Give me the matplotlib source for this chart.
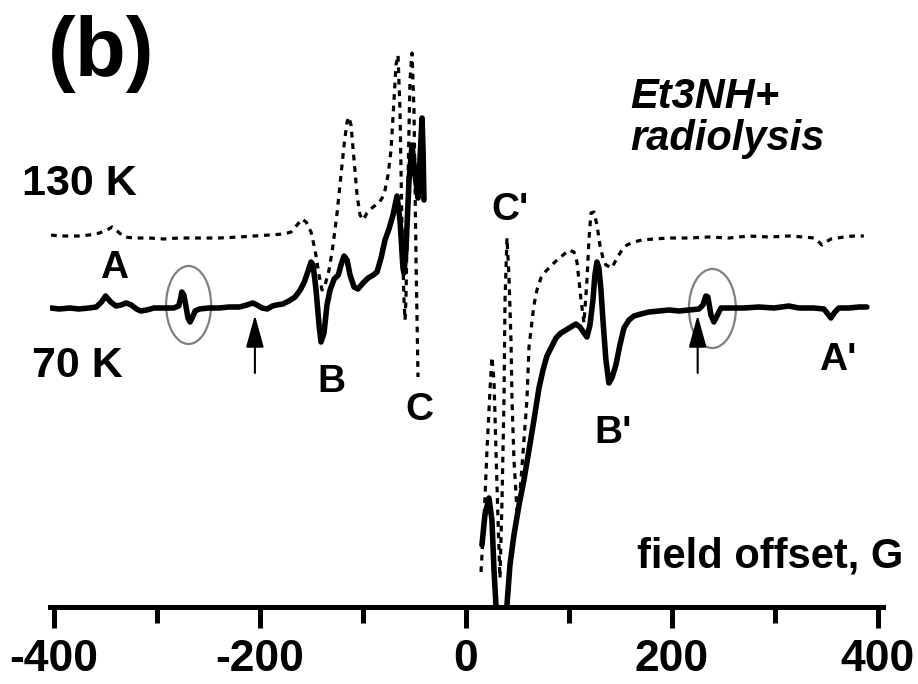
import matplotlib
matplotlib.use('Agg')
import matplotlib.pyplot as plt
from matplotlib.patches import Ellipse

plt.rcParams['font.family'] = ['Liberation Sans', 'DejaVu Sans']
plt.rcParams['axes.unicode_minus'] = False

# 70 K spectrum (solid), low-field and high-field parts; centre line cut out
field_70_low = [-403, -395, -385, -376, -366, -359, -354, -350, -345, -340,
                -335, -330, -325, -320, -316, -310, -303, -293, -284, -279,
                -277, -276, -274, -272, -270, -268, -266, -263, -259, -250,
                -240, -230, -220, -213, -207, -203, -198, -193, -188, -184,
                -178, -172, -166, -161, -157, -153, -150.5, -148.5, -145.6, -142.7,
                -140.8, -137.9, -135, -132, -128, -124, -121.4, -118.4, -115.5, -112.6,
                -108.7, -104.9, -100, -95, -90, -86.4, -82.5, -78.6, -74.8, -70.9,
                -67, -64.1, -61.2, -60.2, -58.3, -55.3, -52.4, -49.5, -46.6, -44.7,
                -42.7, -41.7, -40.8]
signal_70_low = [0, -1, 0, -1, 0, 1, 6, 12, 6, 2,
                 3, 5, 3, -1, -3, -2, 0, 0, 0, 2,
                 10, 16, 13, 2, -10, -14, -10, -3, -1, 0,
                 0, 1, 1, 3, 5, 3, 0, -1, 2, 3,
                 4, 7, 11, 18, 26, 38, 46, 43, 18, -17,
                 -34, -25, 3, 18, 29, 33, 43, 52, 48, 33,
                 21, 19, 25, 30, 33, 36, 50, 68, 79, 93,
                 112, 88, 40, 35, 58, 128, 163, 133, 110, 148,
                 190, 158, 108]

field_70_high = [15.5, 18.4, 22.3, 25.2, 27.2, 29.1, 34.0, 39.8, 42.7, 46.6,
                 51.5, 56.3, 61.2, 66.0, 70.9, 74.8, 78.6, 83.5, 87.4, 92.2,
                 97.1, 101.9, 106.8, 110.7, 114.6, 117.5, 120.4, 123.3, 125.2, 127.2,
                 129.1, 131.1, 133.0, 135.9, 138.8, 141.7, 145.6, 149.5, 153.4, 158.3,
                 163.1, 169.9, 177.7, 187.4, 197.1, 206.8, 216.5, 226.2, 230.1, 233.0,
                 234.9, 237.9, 240.8, 243.7, 247.6, 255.3, 269.9, 284.5, 299.0, 313.6,
                 323.3, 337.9, 347.6, 351.5, 354.4, 358.3, 362.1, 371.8, 381.6, 389.3]
signal_70_high = [-237, -207, -190, -212, -262, -297, -332, -297, -257, -227,
                  -197, -172, -142, -112, -80, -62, -48, -38, -30, -25,
                  -22, -19, -16, -19, -25, -29, -17, 8, 33, 46,
                  40, 18, -12, -52, -75, -70, -57, -37, -20, -12,
                  -8, -6, -4, -3, -2, -3, -2, -1, 3, 12,
                  11, -7, -14, -8, 0, 0, 0, 1, 0, 2,
                  0, 0, -1, -6, -10, -4, 0, 0, 1, 1]

# 130 K spectrum (dotted)
field_130_low = [-403, -395, -385, -376, -366, -356, -348.5, -343.7, -338.8, -332,
                 -322, -308, -293, -279, -259, -240, -220, -206, -191, -177,
                 -169.9, -164.1, -159.2, -155.3, -150.5, -146.6, -142.7, -139.8, -136.9, -133,
                 -129.1, -125.2, -121.4, -118.4, -115.5, -113.6, -111.7, -108.7, -105.8, -102.9,
                 -100, -96.1, -90.3, -84.5, -79.6, -75.7, -72.8, -69.9, -68, -66,
                 -64.1, -62.1, -60.2, -59.2, -58.3, -56.3, -54.4, -52.4, -50.5, -48.5,
                 -46.6]
signal_130_low = [1, 0, 0, 0, 1, 3, 6, 9, 5, -1,
                  -2, -2, -3, -2, -2, -2, -1, 0, 1, 2,
                  4, 11, 17, 14, 4, -14, -39, -54, -49, -34,
                  -9, 23, 61, 91, 114, 119, 111, 76, 41, 21,
                  16, 23, 29, 33, 41, 61, 86, 136, 171, 181,
                  126, 6, -64, -84, -64, 56, 156, 183, 126, -24,
                  -141]

field_130_high = [14.6, 17.5, 20.4, 23.3, 25.2, 27.2, 29.1, 31.1, 33.0, 35.0,
                  36.9, 37.9, 39.8, 41.7, 43.7, 44.7, 46.6, 49.5, 50.5, 53.4,
                  56.3, 59.2, 61.2, 66.0, 68.9, 72.8, 77.7, 82.5, 87.4, 93.2,
                  100.0, 104.9, 107.8, 109.7, 111.7, 114.6, 117.5, 119.4, 121.4, 124.3,
                  127.2, 130.1, 133.0, 135.9, 141.7, 146.6, 151.5, 156.3, 163.1, 170.9,
                  182.5, 197.1, 216.5, 235.9, 255.3, 274.8, 294.2, 313.6, 328.2, 337.9,
                  342.7, 345.6, 349.5, 354.4, 367.0, 376.7, 386.4]
signal_130_high = [-336, -284, -214, -154, -121, -144, -214, -284, -342, -264,
                   -164, -64, -2, -39, -104, -164, -224, -274, -279, -244,
                   -204, -164, -111, -69, -54, -42, -35, -30, -25, -20,
                   -14, -16, -26, -44, -64, -87, -44, -4, 23, 24,
                   11, -9, -22, -29, -32, -22, -14, -9, -6, -4,
                   -3, -2, -2, -1, -2, 0, -1, 0, -1, -2,
                   -6, -9, -6, -3, -1, 0, 0]

offset_70 = 299
offset_130 = 371

line_labels = ['A', 'B', 'C', "C'", "B'", "A'"]
line_label_pos = [(-342, 329), (-131, 215), (-45, 187), (43, 387), (143, 164), (361, 237)]

fig = plt.figure(figsize=(9.18, 6.84), dpi=100)
ax = fig.add_axes([50 / 918, 77 / 684, 833 / 918, 607 / 684])

ax.plot(field_130_low, [s + offset_130 for s in signal_130_low], color='black',
        lw=2.3, linestyle=(0, (1.8, 1.8)))
ax.plot(field_130_high, [s + offset_130 for s in signal_130_high], color='black',
        lw=2.3, linestyle=(0, (1.8, 1.8)))
ax.plot(field_70_low, [s + offset_70 for s in signal_70_low], color='black',
        lw=4, solid_joinstyle='round', solid_capstyle='round')
ax.plot(field_70_high, [s + offset_70 for s in signal_70_high], color='black',
        lw=4, solid_joinstyle='round', solid_capstyle='round')

# circled features and arrows
ax.add_patch(Ellipse((-269.4, 302), 43.7, 78, fill=False, edgecolor='#808080', lw=1.6))
ax.add_patch(Ellipse((239.3, 298.5), 45.6, 79, fill=False, edgecolor='#808080', lw=1.6))
for xa in (-205, 225):
    ax.annotate('', xy=(xa, 292), xytext=(xa, 234),
                arrowprops=dict(arrowstyle='-|>,head_length=0.8,head_width=0.22',
                                mutation_scale=25, color='black', lw=1.5,
                                shrinkA=0, shrinkB=0))

for lab, (xl, yl) in zip(line_labels, line_label_pos):
    ax.text(xl, yl, lab, fontsize=28, fontweight='bold', ha='center', va='baseline')

ax.set_xlim(-404, 405)
ax.set_ylim(0, 607)
for side in ('left', 'right', 'top'):
    ax.spines[side].set_visible(False)
ax.spines['bottom'].set_linewidth(3.6)
ax.spines['bottom'].set_zorder(5)
ax.set_yticks([])
ax.set_xticks([-400, -200, 0, 200, 400])
ax.set_xticks([-300, -100, 100, 300], minor=True)
ax.tick_params(axis='x', which='major', length=15, width=3.6, direction='out',
               labelsize=32, pad=8)
ax.tick_params(axis='x', which='minor', length=11.5, width=3.6, direction='out')
for t in ax.get_xticklabels():
    t.set_fontweight('bold')
ax.patch.set_visible(False)

fig.text(48 / 918, 1 - 15 / 684, '(b)', fontsize=60, fontweight='bold', va='top')
fig.text(630 / 918, 1 - 108 / 684, 'Et3NH+', fontsize=30, fontweight='bold',
         fontstyle='italic', va='baseline')
fig.text(630 / 918, 1 - 150 / 684, 'radiolysis', fontsize=30, fontweight='bold',
         fontstyle='italic', va='baseline')
fig.text(22 / 918, 1 - 195 / 684, '130 K', fontsize=31, fontweight='bold', va='baseline')
fig.text(32 / 918, 1 - 377 / 684, '70 K', fontsize=31, fontweight='bold', va='baseline')
fig.text(903 / 918, 1 - 568 / 684, 'field offset, G', fontsize=30, fontweight='bold',
         ha='right', va='baseline')

fig.savefig('out.png', dpi=100)
